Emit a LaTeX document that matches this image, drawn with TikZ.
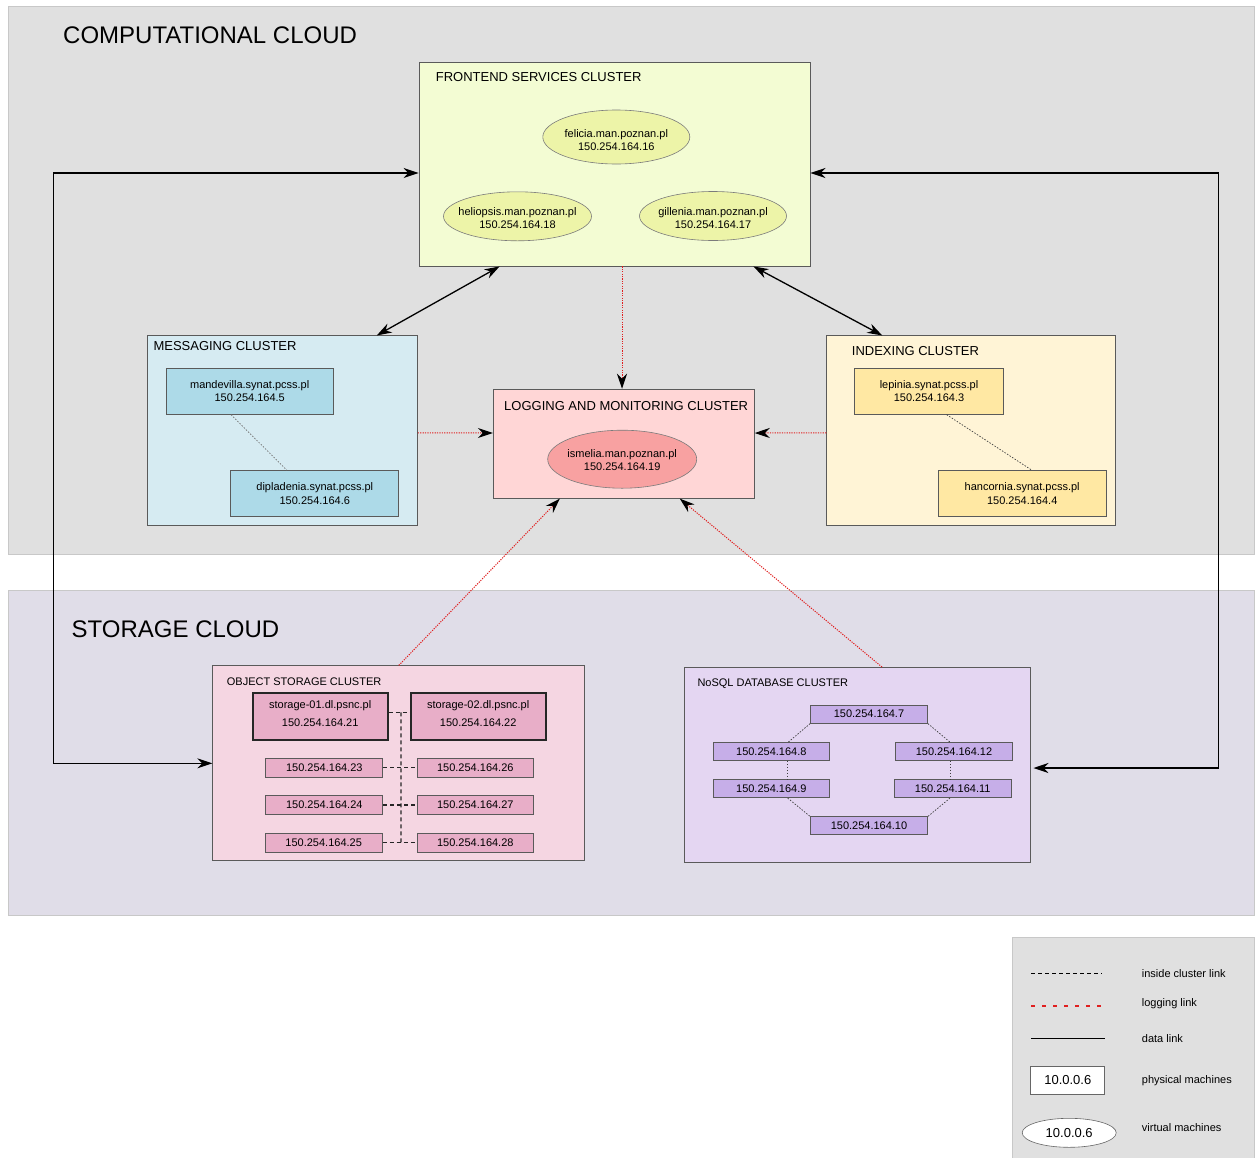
\documentclass[tikz,border=0pt]{standalone}
\usepackage{fontspec}
\setmainfont{Liberation Sans}
\usetikzlibrary{arrows.meta,calc,shapes.geometric}
\definecolor{cloudA}{HTML}{E0E0E0}
\definecolor{cloudB}{HTML}{E0DDE8}
\definecolor{cloudLine}{HTML}{C8C8C8}
\definecolor{frontBg}{HTML}{F3FCD3}
\definecolor{frontVm}{HTML}{EDF4A8}
\definecolor{msgBg}{HTML}{D6EBF2}
\definecolor{msgPm}{HTML}{ADDAE8}
\definecolor{logBg}{HTML}{FFD6D6}
\definecolor{logVm}{HTML}{F8A1A1}
\definecolor{idxBg}{HTML}{FFF4D6}
\definecolor{idxPm}{HTML}{FFE8A3}
\definecolor{osBg}{HTML}{F5D6E2}
\definecolor{osPm}{HTML}{E8AEC8}
\definecolor{dbBg}{HTML}{E4D6F2}
\definecolor{dbPm}{HTML}{C6AEE8}
\definecolor{boxLine}{HTML}{5A5A5A}
\definecolor{logRed}{HTML}{E02020}
\begin{document}
\begin{tikzpicture}[x=1pt,y=-1pt,
  cloudbox/.style={rectangle,draw=cloudLine,line width=1pt,inner sep=0pt},
  cluster/.style={rectangle,draw=boxLine,line width=0.9pt,inner sep=0pt},
  bigtitle/.style={anchor=base west,inner sep=0pt,font=\fontsize{24}{28}\selectfont},
  ctitle/.style={anchor=base west,inner sep=0pt,font=\fontsize{13}{15}\selectfont},
  stitle/.style={anchor=base west,inner sep=0pt,font=\fontsize{11}{13}\selectfont},
  vm/.style={ellipse,draw=boxLine!80,line width=0.6pt,inner sep=0pt},
  vmtext/.style={inner sep=0pt,align=center,font=\fontsize{11}{12.5}\selectfont,yshift=-3pt},
  pm/.style={rectangle,draw=boxLine,line width=0.8pt,inner sep=0pt,align=center,font=\fontsize{11}{13.5}\selectfont},
  bigpm/.style={rectangle,draw=black!85,line width=1.6pt,inner sep=0pt,minimum width=135pt,minimum height=47pt},
  bigtext/.style={inner sep=0pt,align=center,font=\fontsize{11}{18}\selectfont,yshift=3.5pt},
  rowpm/.style={pm,minimum width=116pt,minimum height=19pt},
  dbpm/.style={pm,fill=dbPm,minimum width=117pt,minimum height=18pt},
  datalink/.style={draw=black,line width=1.3pt,{Stealth[length=15pt,width=10pt]}-{Stealth[length=15pt,width=10pt]}},
  loglink/.style={draw=logRed,line width=1pt,dash pattern=on 1.2pt off 1.2pt,-{Stealth[length=15pt,width=10pt,color=black]}},
  inlink/.style={draw=black!75,line width=0.7pt,dash pattern=on 1.5pt off 1.5pt},
  osdash/.style={draw=black!85,line width=1.2pt,dash pattern=on 4pt off 3pt},
  legtext/.style={anchor=west,inner sep=0pt,font=\fontsize{11}{13}\selectfont}
]
\fill[white] (0,0) rectangle (1255,1157);
\useasboundingbox (0,0) rectangle (1255,1157);

% clouds
\node[cloudbox,fill=cloudA,minimum width=1246pt,minimum height=547.5pt] (comp) at (631,280.25) {};
\node[cloudbox,fill=cloudB,minimum width=1246pt,minimum height=324.5pt] (stor) at (631,752.75) {};
\node[bigtitle] (compT) at (63,43.5) {COMPUTATIONAL CLOUD};
\node[bigtitle] (storT) at (71.5,637.5) {STORAGE CLOUD};

% clusters
\node[cluster,fill=frontBg,minimum width=391pt,minimum height=204pt] (front) at (614.5,164) {};
\node[cluster,fill=msgBg,minimum width=270pt,minimum height=190pt] (msg) at (282.3,430.9) {};
\node[cluster,fill=logBg,minimum width=261pt,minimum height=109pt] (log) at (623.8,443.7) {};
\node[cluster,fill=idxBg,minimum width=289pt,minimum height=190pt] (idx) at (971.2,430.9) {};
\node[cluster,fill=osBg,minimum width=372pt,minimum height=195pt] (os) at (398.8,763.3) {};
\node[cluster,fill=dbBg,minimum width=346pt,minimum height=195pt] (db) at (857,765) {};

\node[ctitle] (frontT) at (435.7,81) {FRONTEND SERVICES CLUSTER};
\node[ctitle] (msgT) at (153.3,350.7) {MESSAGING CLUSTER};
\node[ctitle] (logT) at (504,410.7) {LOGGING AND MONITORING CLUSTER};
\node[ctitle] (idxT) at (851.7,355) {INDEXING CLUSTER};
\node[stitle] (osT) at (226.7,685) {OBJECT STORAGE CLUSTER};
\node[stitle] (dbT) at (697.3,686.7) {NoSQL DATABASE CLUSTER};

% virtual machines
\node[vm,fill=frontVm,minimum width=147pt,minimum height=54pt,label={[vmtext]center:felicia.man.poznan.pl\\150.254.164.16}] (felicia) at (616.3,137) {};
\node[vm,fill=frontVm,minimum width=148pt,minimum height=49pt,label={[vmtext,yshift=1pt]center:heliopsis.man.poznan.pl\\150.254.164.18}] (heliopsis) at (517.5,216.3) {};
\node[vm,fill=frontVm,minimum width=147pt,minimum height=49pt,label={[vmtext,yshift=1pt]center:gillenia.man.poznan.pl\\150.254.164.17}] (gillenia) at (713,216) {};
\node[vm,fill=logVm,minimum width=149pt,minimum height=58pt,label={[vmtext,yshift=2pt]center:ismelia.man.poznan.pl\\150.254.164.19}] (ismelia) at (622.2,459.2) {};

% physical machines
\node[pm,fill=msgPm,minimum width=167pt,minimum height=46pt] (mand) at (249.7,391.3) {mandevilla.synat.pcss.pl\\150.254.164.5};
\node[pm,fill=msgPm,minimum width=168pt,minimum height=46pt] (dipl) at (314.8,493.5) {dipladenia.synat.pcss.pl\\150.254.164.6};
\node[pm,fill=idxPm,minimum width=149pt,minimum height=46pt] (lep) at (929,391.3) {lepinia.synat.pcss.pl\\150.254.164.3};
\node[pm,fill=idxPm,minimum width=168pt,minimum height=46pt] (hanc) at (1022.2,493.5) {hancornia.synat.pcss.pl\\150.254.164.4};

\node[bigpm,fill=osPm,label={[bigtext]center:storage-01.dl.psnc.pl\\150.254.164.21}] (s01) at (320.2,716.7) {};
\node[bigpm,fill=osPm,label={[bigtext]center:storage-02.dl.psnc.pl\\150.254.164.22}] (s02) at (478.2,716.7) {};
\node[rowpm,fill=osPm,minimum width=117pt] (n23) at (324.3,767.8) {150.254.164.23};
\node[rowpm,fill=osPm] (n26) at (475.3,767.8) {150.254.164.26};
\node[rowpm,fill=osPm,minimum width=117pt] (n24) at (324.3,805) {150.254.164.24};
\node[rowpm,fill=osPm] (n27) at (475.3,805) {150.254.164.27};
\node[rowpm,fill=osPm,minimum width=117pt] (n25) at (323.7,842.5) {150.254.164.25};
\node[rowpm,fill=osPm] (n28) at (475.3,842.5) {150.254.164.28};

\node[dbpm] (db7) at (869,714.2) {150.254.164.7};
\node[dbpm,minimum width=116pt] (db8) at (771.3,751.5) {150.254.164.8};
\node[dbpm] (db12) at (954,751.5) {150.254.164.12};
\node[dbpm,minimum width=116pt] (db9) at (771.3,788.7) {150.254.164.9};
\node[dbpm] (db11) at (952.7,788.7) {150.254.164.11};
\node[dbpm] (db10) at (869,825.8) {150.254.164.10};

% inside cluster links
\draw[inlink,draw=black!55] ([xshift=-18.7pt]mand.south) -- ([xshift=-28pt]dipl.north);
\draw[inlink] ([xshift=17.7pt]lep.south) -- ([xshift=9.5pt]hanc.north);
\draw[inlink] (db7.south west) -- ([xshift=17pt]db8.north);
\draw[inlink] (db7.south east) -- ([xshift=-4pt]db12.north);
\draw[inlink] ([xshift=16.4pt]db8.south) -- ([xshift=16.4pt]db9.north);
\draw[inlink] ([xshift=-4pt]db12.south) -- ([xshift=-2.7pt]db11.north);
\draw[inlink] ([xshift=16.4pt]db9.south) -- (db10.north west);
\draw[inlink] ([xshift=-2.7pt]db11.south) -- (db10.north east);

\coordinate (jt) at ($(s01.east)!0.5!(s02.west)$);
\coordinate (jb) at ($(n25.east)!0.5!(n28.west)$);
\draw[osdash] ([yshift=4.4pt]s01.east) -- ([yshift=4.4pt]s02.west);
\draw[osdash] ([xshift=1.8pt,yshift=4.4pt]jt) -- ([xshift=1.3pt]jb);
\draw[osdash] (n23.east) -- (n26.west);
\draw[osdash] (n24.east) -- (n27.west);
\draw[osdash] (n25.east) -- (n28.west);

% logging links
\draw[loglink] ([xshift=7.5pt]front.south) -- ([xshift=-1.8pt]log.north);
\draw[loglink] ([yshift=-2pt]msg.east) -- ([yshift=10.7pt]log.west);
\draw[loglink] ([yshift=-2pt]idx.west) -- ([yshift=10.7pt]log.east);
\draw[loglink] (os.north) -- ([xshift=-64pt]log.south);
\draw[loglink] ([xshift=25pt]db.north) -- ([xshift=56pt]log.south);

% data links
\draw[datalink] ([yshift=-9pt]front.west) -- ++(-365,0) |- (os.west);
\draw[datalink] ([yshift=-9pt]front.east) -- ++(408,0) |- ([xshift=3pt,yshift=-3pt]db.east);
\draw[datalink] ([xshift=81pt]front.south west) -- ([xshift=-41pt]msg.north east);
\draw[datalink] ([xshift=-57pt]front.south east) -- ([xshift=56pt]idx.north west);

% legend
\node[cloudbox,fill=cloudA,minimum width=241.5pt,minimum height=225pt] (legend) at (1133.25,1049.5) {};
\coordinate (la1) at (1031,973.3);
\coordinate (lb1) at (1101.7,973.3);
\coordinate (la2) at (1031,1006);
\coordinate (lb2) at (1101.7,1006);
\coordinate (la3) at (1031,1038.3);
\coordinate (lb3) at (1105,1038.3);
\draw[draw=black,line width=1.3pt,dash pattern=on 4pt off 3pt] (la1) -- (lb1);
\draw[draw=logRed,line width=1.3pt,dash pattern=on 4pt off 7pt] (la2) -- (lb2);
\draw[draw=black,line width=1.6pt] (la3) -- (lb3);
\node[rectangle,draw=black!60,line width=0.8pt,fill=white,minimum width=74pt,minimum height=28pt,inner sep=0pt,font=\fontsize{13}{15}\selectfont] (legpm) at (1067.8,1080.5) {10.0.0.6};
\node[ellipse,draw=black!60,line width=0.6pt,fill=white,minimum width=94pt,minimum height=29pt,inner sep=0pt,font=\fontsize{13}{15}\selectfont] (legvm) at (1069.2,1132.8) {10.0.0.6};
\node[legtext] (lt1) at (1141.7,974) {inside cluster link};
\node[legtext] (lt2) at (1141.7,1004) {logging link};
\node[legtext] (lt3) at (1141.7,1038.3) {data link};
\node[legtext] (lt4) at (1141.7,1081) {physical machines};
\node[legtext] (lt5) at (1141.7,1127.7) {virtual machines};
\end{tikzpicture}
\end{document}
